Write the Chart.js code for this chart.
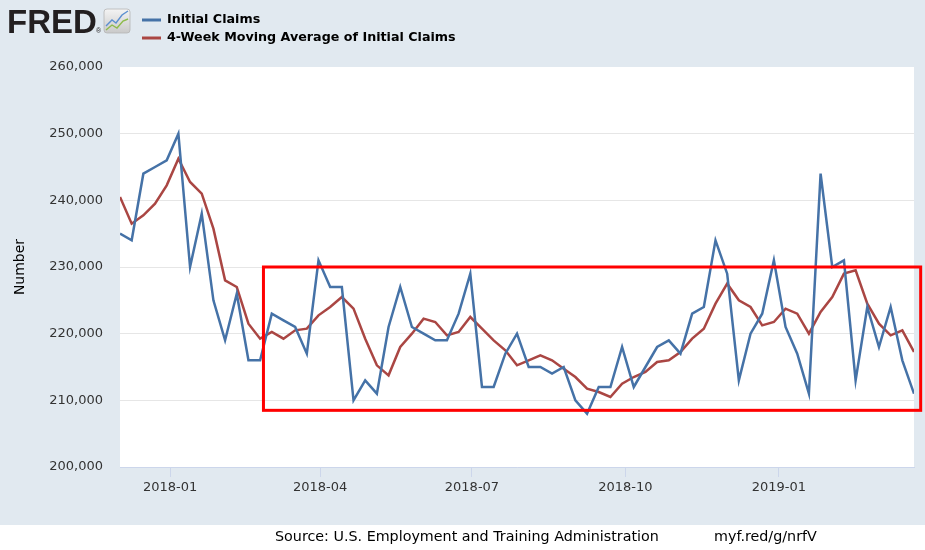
<!DOCTYPE html>
<html>
<head>
<meta charset="utf-8">
<script src="https://cdn.jsdelivr.net/npm/chart.js@4.4.1/dist/chart.umd.min.js"></script>
<style>
  body { margin: 0; background: #ffffff; }
  #wrap { width: 925px; height: 550px; position: relative; }
</style>
</head>
<body>
<div id="wrap"><canvas id="claimsChart"></canvas></div>
<script>
// week ending dates (Saturday)
const weeks = [
    '2017-12-02', '2017-12-09', '2017-12-16', '2017-12-23', '2017-12-30',
    '2018-01-06', '2018-01-13', '2018-01-20', '2018-01-27', '2018-02-03',
    '2018-02-10', '2018-02-17', '2018-02-24', '2018-03-03', '2018-03-10',
    '2018-03-17', '2018-03-24', '2018-03-31', '2018-04-07', '2018-04-14',
    '2018-04-21', '2018-04-28', '2018-05-05', '2018-05-12', '2018-05-19',
    '2018-05-26', '2018-06-02', '2018-06-09', '2018-06-16', '2018-06-23',
    '2018-06-30', '2018-07-07', '2018-07-14', '2018-07-21', '2018-07-28',
    '2018-08-04', '2018-08-11', '2018-08-18', '2018-08-25', '2018-09-01',
    '2018-09-08', '2018-09-15', '2018-09-22', '2018-09-29', '2018-10-06',
    '2018-10-13', '2018-10-20', '2018-10-27', '2018-11-03', '2018-11-10',
    '2018-11-17', '2018-11-24', '2018-12-01', '2018-12-08', '2018-12-15',
    '2018-12-22', '2018-12-29', '2019-01-05', '2019-01-12', '2019-01-19',
    '2019-01-26', '2019-02-02', '2019-02-09', '2019-02-16', '2019-02-23',
    '2019-03-02', '2019-03-09', '2019-03-16', '2019-03-23'
];

const initialClaims = [
    235000, 234000, 244000, 245000, 246000,
    250000, 230000, 238000, 225000, 219000,
    226000, 216000, 216000, 223000, 222000,
    221000, 217000, 231000, 227000, 227000,
    210000, 213000, 211000, 221000, 227000,
    221000, 220000, 219000, 219000, 223000,
    229000, 212000, 212000, 217000, 220000,
    215000, 215000, 214000, 215000, 210000,
    208000, 212000, 212000, 218000, 212000,
    215000, 218000, 219000, 217000, 223000,
    224000, 234000, 229000, 213000, 220000,
    223000, 231000, 221000, 217000, 211000,
    244000, 230000, 231000, 213000, 224000,
    218000, 224000, 216000, 211000
];

const movingAvg = [
    240500, 236500, 237750, 239500, 242250,
    246250, 242750, 241000, 235750, 228000,
    227000, 221500, 219250, 220250, 219250,
    220500, 220750, 222750, 224000, 225500,
    223750, 219250, 215250, 213750, 218000,
    220000, 222250, 221750, 219750, 220250,
    222500, 220750, 219000, 217500, 215250,
    216000, 216750, 216000, 214750, 213500,
    211750, 211250, 210500, 212500, 213500,
    214250, 215750, 216000, 217250, 219250,
    220750, 224500, 227500, 225000, 224000,
    221250, 221750, 223750, 223000, 220000,
    223250, 225500, 229000, 229500, 224500,
    221500, 219750, 220500, 217250
];

const tickDates = ['2018-01-01', '2018-04-01', '2018-07-01', '2018-10-01', '2019-01-01'];
const tickLabels = ['2018-01', '2018-04', '2018-07', '2018-10', '2019-01'];

const FONT = '"DejaVu Sans", Verdana, sans-serif';
const toPoints = (vals) => vals.map((v, i) => ({ x: Date.parse(weeks[i]), y: v }));

// background, logo, legend, source line and the red highlight box
const fredDecor = {
    id: 'fredDecor',
    beforeDraw(chart) {
        const c = chart.ctx;
        const a = chart.chartArea;
        c.save();
        c.fillStyle = '#ffffff';
        c.fillRect(0, 0, chart.width, chart.height);
        c.fillStyle = '#e1e9f0';
        c.fillRect(0, 0, chart.width, 525);
        c.fillStyle = '#ffffff';
        c.fillRect(a.left, a.top, a.right - a.left, a.bottom - a.top);
        c.restore();
    },
    afterDraw(chart) {
        const c = chart.ctx;
        const xs = chart.scales.x;
        const ys = chart.scales.y;
        c.save();

        // highlight box
        const bx1 = xs.getPixelForValue(Date.parse('2018-02-26'));
        const bx2 = xs.getPixelForValue(Date.parse('2019-03-27'));
        const by1 = ys.getPixelForValue(230000);
        const by2 = ys.getPixelForValue(208500);
        c.strokeStyle = '#ff0000';
        c.lineWidth = 3;
        c.strokeRect(bx1, by1, bx2 - bx1, by2 - by1);

        // FRED logo
        c.fillStyle = '#231f20';
        c.font = 'bold 33px "Liberation Sans", Arial, sans-serif';
        c.textBaseline = 'alphabetic';
        c.textAlign = 'left';
        c.fillText('FRED', 7, 33);
        c.font = '7px "Liberation Sans", Arial, sans-serif';
        c.fillText('®', 96, 33);

        // little graph icon
        const g = c.createLinearGradient(0, 9, 0, 33);
        g.addColorStop(0, '#f4f4f4');
        g.addColorStop(1, '#c9c9c9');
        c.fillStyle = g;
        c.beginPath();
        c.roundRect(104, 9, 26, 24, 3);
        c.fill();
        c.strokeStyle = '#b5b5b5';
        c.lineWidth = 0.8;
        c.stroke();
        c.lineWidth = 1.4;
        c.strokeStyle = '#5b8fd0';
        c.beginPath();
        c.moveTo(106, 26); c.lineTo(112, 20); c.lineTo(116, 23); c.lineTo(122, 15); c.lineTo(128, 11);
        c.stroke();
        c.strokeStyle = '#8dbb4a';
        c.beginPath();
        c.moveTo(106, 30); c.lineTo(112, 25); c.lineTo(117, 28); c.lineTo(123, 21); c.lineTo(128, 19);
        c.stroke();

        // legend
        c.font = 'bold 12.7px ' + FONT;
        c.textBaseline = 'middle';
        chart.data.datasets.forEach((ds, i) => {
            const ly = 20 + i * 18;
            c.strokeStyle = ds.borderColor;
            c.lineWidth = 3;
            c.beginPath();
            c.moveTo(142, ly);
            c.lineTo(161, ly);
            c.stroke();
            c.fillStyle = '#000000';
            c.fillText(ds.label, 167, ly);
        });

        // source line
        c.font = '14.3px ' + FONT;
        c.fillStyle = '#000000';
        c.fillText('Source: U.S. Employment and Training Administration', 275, 537);
        c.fillText('myf.red/g/nrfV', 714, 537);
        c.restore();
    }
};

const ctx = document.getElementById('claimsChart').getContext('2d');
const claimsChart = new Chart(ctx, {
    type: 'line',
    data: {
        datasets: [{
            label: 'Initial Claims',
            data: toPoints(initialClaims),
            borderColor: '#4572a7',
            borderWidth: 2.5,
            pointRadius: 0,
            tension: 0
        }, {
            label: '4-Week Moving Average of Initial Claims',
            data: toPoints(movingAvg),
            borderColor: '#aa4643',
            borderWidth: 2.5,
            pointRadius: 0,
            tension: 0
        }]
    },
    options: {
        responsive: true,
        maintainAspectRatio: false,
        animation: false,
        layout: { padding: { top: 67, right: 11, left: 0, bottom: 0 } },
        plugins: {
            legend: { display: false },
            tooltip: { enabled: false }
        },
        scales: {
            x: {
                type: 'linear',
                min: Date.parse(weeks[0]),
                max: Date.parse(weeks[weeks.length - 1]),
                afterBuildTicks: (s) => {
                    s.ticks = tickDates.map(d => ({ value: Date.parse(d) }));
                },
                afterFit: (s) => { s.height = 83; },
                grid: {
                    drawOnChartArea: false,
                    drawTicks: true,
                    tickLength: 10,
                    color: '#ccd6eb'
                },
                border: { color: '#ccd6eb', width: 1 },
                ticks: {
                    padding: 3,
                    maxRotation: 0,
                    autoSkip: false,
                    color: '#333333',
                    font: { family: FONT, size: 13 },
                    callback: (v) => {
                        const k = tickDates.findIndex(d => Date.parse(d) === v);
                        return k >= 0 ? tickLabels[k] : '';
                    }
                }
            },
            y: {
                min: 200000,
                max: 260000,
                afterFit: (s) => { s.width = 120; },
                grid: {
                    drawTicks: false,
                    color: (c) => c.tick && c.tick.value === 260000 ? 'rgba(0,0,0,0)' : '#e6e6e6'
                },
                border: { display: false },
                title: {
                    display: true,
                    text: 'Number',
                    color: '#000000',
                    padding: { top: 12, bottom: 0 },
                    font: { family: FONT, size: 14 }
                },
                ticks: {
                    stepSize: 10000,
                    padding: 17,
                    color: '#333333',
                    font: { family: FONT, size: 13 },
                    callback: (v) => v.toLocaleString('en-US')
                }
            }
        }
    },
    plugins: [fredDecor]
});
</script>
</body>
</html>
